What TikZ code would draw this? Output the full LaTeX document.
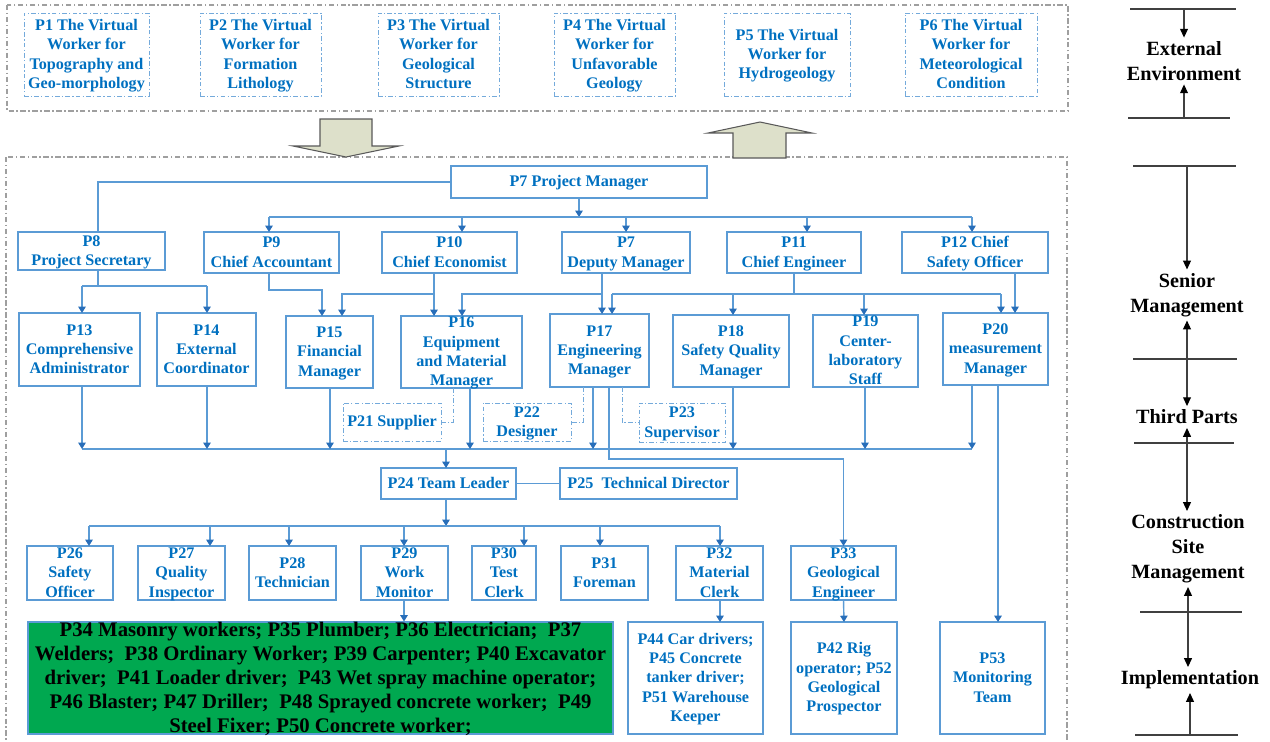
\documentclass[tikz,border=0pt]{standalone}
\usepackage{fontspec}
\setmainfont{Liberation Serif}[BoldFont={Liberation Serif Bold}]
\usetikzlibrary{arrows.meta}
\definecolor{tblue}{RGB}{0,112,192}
\definecolor{bblue}{RGB}{91,155,213}
\definecolor{ablue}{RGB}{40,110,185}
\definecolor{gfill}{RGB}{0,168,80}
\definecolor{afill}{RGB}{221,224,202}
\newcommand\pb[7]{%
  \node[#6, minimum width={(#4-#2)*0.02cm}, minimum height={(#5-#3)*0.02cm}] (#1) at ({(#2+#4)/2},{(#3+#5)/2}) {};
  \node[txt] at ([yshift=-0.6pt]#1.center) {\strut #7\strut};}
\tikzset{
  box/.style={draw=bblue, line width=0.8pt, inner sep=0pt, outer sep=0pt},
  dbox/.style={draw=bblue!85, line width=0.55pt, dash pattern=on 2.6pt off 1.3pt on 0.7pt off 1.3pt, inner sep=0pt, outer sep=0pt},
  txt/.style={text=tblue, font=\fontsize{9.2}{11}\selectfont\bfseries, align=center, inner sep=0pt},
  ln/.style={draw=bblue, line width=0.8pt},
  dln/.style={draw=bblue!85, line width=0.55pt, dash pattern=on 2.6pt off 1.3pt on 0.7pt off 1.3pt},
  arr/.style={ln, -{Triangle[width=4.2pt,length=3.6pt,color=ablue]}},
  gdash/.style={draw=gray!75, line width=0.6pt, dash pattern=on 3pt off 1.5pt on 0.8pt off 1.5pt},
  stxt/.style={font=\fontsize{11.5}{14.2}\selectfont\bfseries, align=center, inner sep=2pt},
  sline/.style={draw=black!75, line width=0.6pt},
  sarr/.style={sline, -{Triangle[width=4.5pt,length=5pt,color=black]}},
  sdarr/.style={sline, {Triangle[width=4.5pt,length=5pt,color=black]}-{Triangle[width=4.5pt,length=5pt,color=black]}},
  bigarr/.style={fill=afill, draw=black!65, line width=0.6pt}
}
\begin{document}
\begin{tikzpicture}[x=0.02cm, y=-0.02cm]
\useasboundingbox (0,0) rectangle (1270,741);
% outer dashed frames
\draw[gdash] (7,5) rectangle (1068,111);
\draw[gdash] (6,157) rectangle (1067,790);
% external environment boxes
\pb{p1}{24}{13}{149}{96}{dbox}{P1 The Virtual\\Worker for\\Topography and\\Geo-morphology}
\pb{p2}{200}{13}{321}{96}{dbox}{P2 The Virtual\\Worker for\\Formation\\Lithology}
\pb{p3}{378}{13}{499}{96}{dbox}{P3 The Virtual\\Worker for\\Geological\\Structure}
\pb{p4}{554}{13}{675}{96}{dbox}{P4 The Virtual\\Worker for\\Unfavorable\\Geology}
\pb{p5}{724}{13}{850}{96}{dbox}{P5 The Virtual\\Worker for\\Hydrogeology}
\pb{p6}{905}{13}{1037}{96}{dbox}{P6 The Virtual\\Worker for\\Meteorological\\Condition}
% big arrows
\draw[bigarr] (320,119) -- (372,119) -- (372,146) -- (399,146) -- (346,157) -- (293,146) -- (320,146) -- cycle;
\draw[bigarr] (760,122) -- (812,133) -- (786,133) -- (786,158) -- (733,158) -- (733,133) -- (708,133) -- cycle;
% senior management
\pb{p7}{451}{166}{707}{198}{box}{P7 Project Manager}
\pb{p8}{18}{232}{165}{270}{box}{P8\\Project Secretary}
\pb{p9}{204}{232}{339}{273}{box}{P9\\Chief Accountant}
\pb{p10}{382}{232}{517}{273}{box}{P10\\Chief Economist}
\pb{p7d}{562}{232}{690}{273}{box}{P7\\Deputy Manager}
\pb{p11}{727}{232}{861}{273}{box}{P11\\Chief Engineer}
\pb{p12}{902}{232}{1048}{273}{box}{P12 Chief\\Safety Officer}
\pb{p13}{19}{313}{140}{386}{box}{P13\\Comprehensive\\Administrator}
\pb{p14}{157}{313}{256}{386}{box}{P14\\External\\Coordinator}
\pb{p15}{286}{316}{373}{388}{box}{P15\\Financial\\Manager}
\pb{p16}{401}{316}{522}{388}{box}{P16\\Equipment\\and Material\\Manager}
\pb{p17}{550}{314}{649}{387}{box}{P17\\Engineering\\Manager}
\pb{p18}{673}{315}{789}{387}{box}{P18\\Safety Quality\\Manager}
\pb{p19}{813}{315}{918}{387}{box}{P19\\Center-\\laboratory\\Staff}
\pb{p20}{943}{313}{1048}{385}{box}{P20\\measurement\\Manager}
% third parts
\pb{p21}{343}{403}{441}{441}{dbox}{P21 Supplier}
\pb{p22}{483}{403}{571}{441}{dbox}{P22\\Designer}
\pb{p23}{639}{403}{725}{442}{dbox}{P23\\Supervisor}
% site management
\pb{p24}{381}{468}{516}{499}{box}{P24 Team Leader}
\pb{p25}{560}{468}{737}{499}{box}{P25~~Technical Director}
\pb{p26}{27}{546}{113}{600}{box}{P26\\Safety\\Officer}
\pb{p27}{138}{546}{225}{600}{box}{P27\\Quality\\Inspector}
\pb{p28}{249}{546}{336}{600}{box}{P28\\Technician}
\pb{p29}{361}{546}{448}{600}{box}{P29\\Work\\Monitor}
\pb{p30}{472}{546}{536}{600}{box}{P30\\Test\\Clerk}
\pb{p31}{561}{546}{648}{600}{box}{P31\\Foreman}
\pb{p32}{676}{546}{763}{600}{box}{P32\\Material\\Clerk}
\pb{p33}{791}{546}{896}{600}{box}{P33\\Geological\\Engineer}
% implementation
\node[fill=gfill, draw=bblue, line width=0.6pt, minimum width={(613-28)*0.02cm}, minimum height={(734-622)*0.02cm}, inner sep=0pt] (green) at ({(28+613)/2},{(622+734)/2}) {};
\node[font=\fontsize{11.8}{13.7}\selectfont\bfseries, align=center, inner sep=0pt, text=black] at ([yshift=-0.8pt]green.center) {\strut P34 Masonry workers; P35 Plumber; P36 Electrician;~ P37\\Welders;~ P38 Ordinary Worker; P39 Carpenter; P40 Excavator\\driver;~ P41 Loader driver;~ P43 Wet spray machine operator;\\P46 Blaster; P47 Driller;~ P48 Sprayed concrete worker;~ P49\\Steel Fixer; P50 Concrete worker;\strut};
\pb{p44}{628}{622}{763}{734}{box}{P44 Car drivers;\\P45 Concrete\\tanker driver;\\P51 Warehouse\\Keeper}
\pb{p42}{791}{622}{897}{734}{box}{P42 Rig\\operator; P52\\Geological\\Prospector}
\pb{p53}{940}{622}{1045}{734}{box}{P53\\Monitoring\\Team}
% guide coordinates
\foreach \g in {82,89,98,207,210,269,289,322,330,342,404,434,446,453,462,470,524,583,593,600,602,609,612,622,626,720,733,807,864,865,972,998,1001,1015}
  \coordinate (g\g) at (\g,0);
\coordinate (yA) at (0,217);
\coordinate (yB) at (0,286);
\coordinate (y290) at (0,290);
\coordinate (y294) at (0,294);
\coordinate (yC) at (0,449);
\coordinate (y459) at (0,459);
\coordinate (yD) at (0,526);
% connectors: project manager
\draw[ln] (p7.west) -| (g98 |- p8.north);
\draw[arr] (p7.south) -- (p7.south |- yA);
\draw[ln] (g269 |- yA) -- (g972 |- yA);
\draw[arr] (g269 |- yA) -- (g269 |- p9.north);
\draw[arr] (g462 |- yA) -- (g462 |- p10.north);
\draw[arr] (g626 |- yA) -- (g626 |- p7d.north);
\draw[arr] (g807 |- yA) -- (g807 |- p11.north);
\draw[arr] (g972 |- yA) -- (g972 |- p12.north);
% P8
\draw[ln] (g98 |- p8.south) -- (g98 |- yB);
\draw[ln] (g82 |- yB) -- (g207 |- yB);
\draw[arr] (g82 |- yB) -- (g82 |- p13.north);
\draw[arr] (g207 |- yB) -- (g207 |- p14.north);
% P9, P10, P7d
\draw[arr] (g269 |- p9.south) |- (g322 |- y290) -- (g322 |- p15.north);
\draw[arr] (g434 |- p10.south) -- (g434 |- p16.north);
\draw[arr] (g434 |- y294) -| (g342 |- p15.north);
\draw[arr] (g602 |- p7d.south) -- (g602 |- p17.north);
\draw[arr] (g602 |- y294) -| (g462 |- p16.north);
% P11, P12
\draw[ln] (p11.south) -- (p11.south |- y294);
\draw[ln] (g612 |- y294) -- (g1001 |- y294);
\draw[arr] (g612 |- y294) -- (g612 |- p17.north);
\draw[arr] (g733 |- y294) -- (g733 |- p18.north);
\draw[arr] (g864 |- y294) -- (g864 |- p19.north);
\draw[arr] (g1001 |- y294) -- (g1001 |- p20.north);
\draw[arr] (g1015 |- p12.south) -- (g1015 |- p20.north);
% row 3 to team leader
\draw[ln] (g82 |- yC) -- (g972 |- yC);
\draw[arr] (g82 |- p13.south) -- (g82 |- yC);
\draw[arr] (g207 |- p14.south) -- (g207 |- yC);
\draw[arr] (g330 |- p15.south) -- (g330 |- yC);
\draw[arr] (g470 |- p16.south) -- (g470 |- yC);
\draw[arr] (g593 |- p17.south) -- (g593 |- yC);
\draw[arr] (g733 |- p18.south) -- (g733 |- yC);
\draw[arr] (g865 |- p19.south) -- (g865 |- yC);
\draw[arr] (g972 |- p20.south) -- (g972 |- yC);
\draw[arr] (g446 |- yC) -- (g446 |- p24.north);
% third parts
\draw[dln] (g453 |- p16.south) |- (p21.east);
\draw[dln] (g583 |- p17.south) |- (p22.east);
\draw[dln] (g622 |- p17.south) |- (p23.west);
\draw[arr] (g609 |- p17.south) |- (p33.north |- y459) -- (p33.north);
\draw[arr] (g998 |- p20.south) -- (g998 |- p53.north);
% site management
\draw[ln] (p24.east) -- (p25.west);
\draw[arr] (g446 |- p24.south) -- (g446 |- yD);
\draw[ln] (g89 |- yD) -- (g720 |- yD);
\draw[arr] (g89 |- yD) -- (g89 |- p26.north);
\draw[arr] (g210 |- yD) -- (g210 |- p27.north);
\draw[arr] (g289 |- yD) -- (g289 |- p28.north);
\draw[arr] (g404 |- yD) -- (g404 |- p29.north);
\draw[arr] (g524 |- yD) -- (g524 |- p30.north);
\draw[arr] (g600 |- yD) -- (g600 |- p31.north);
\draw[arr] (g720 |- yD) -- (g720 |- p32.north);
\draw[arr] (g404 |- p29.south) -- (g404 |- green.north);
\draw[arr] (g720 |- p32.south) -- (g720 |- p44.north);
\draw[arr] (p33.south) -- (p42.north);
% right-hand scale
\coordinate (L1) at (1183,9);
\coordinate (L2) at (1183,118);
\coordinate (L3) at (1187,166);
\coordinate (L7) at (1190,735);
\draw[sline] (1130,9) -- (1236,9);
\draw[sline] (1128,118) -- (1230,118);
\draw[sline] (1133,166) -- (1236,166);
\draw[sline] (1133,359) -- (1237,359);
\draw[sline] (1134,443) -- (1234,443);
\draw[sline] (1140,612) -- (1242,612);
\draw[sline] (1135,735) -- (1238,735);
\node[stxt] (ext) at (1184,61) {External\\Environment};
\node[stxt] (sen) at (1187,295) {Senior\\Management};
\node[stxt] (thp) at (1187,417) {Third Parts};
\node[stxt] (csm) at (1188,549) {Construction\\Site\\Management};
\node[stxt] (imp) at (1190,680) {Implementation};
\draw[sarr] (ext.north |- L1) -- (ext.north);
\draw[sarr] (ext.south |- L2) -- (ext.south);
\draw[sarr] (sen.north |- L3) -- (sen.north);
\draw[sdarr] (sen.south) -- (sen.south |- thp.north);
\draw[sdarr] (thp.south) -- (thp.south |- csm.north);
\draw[sdarr] (csm.south) -- (csm.south |- imp.north);
\draw[sarr] (imp.south |- L7) -- (imp.south);
\end{tikzpicture}
\end{document}
